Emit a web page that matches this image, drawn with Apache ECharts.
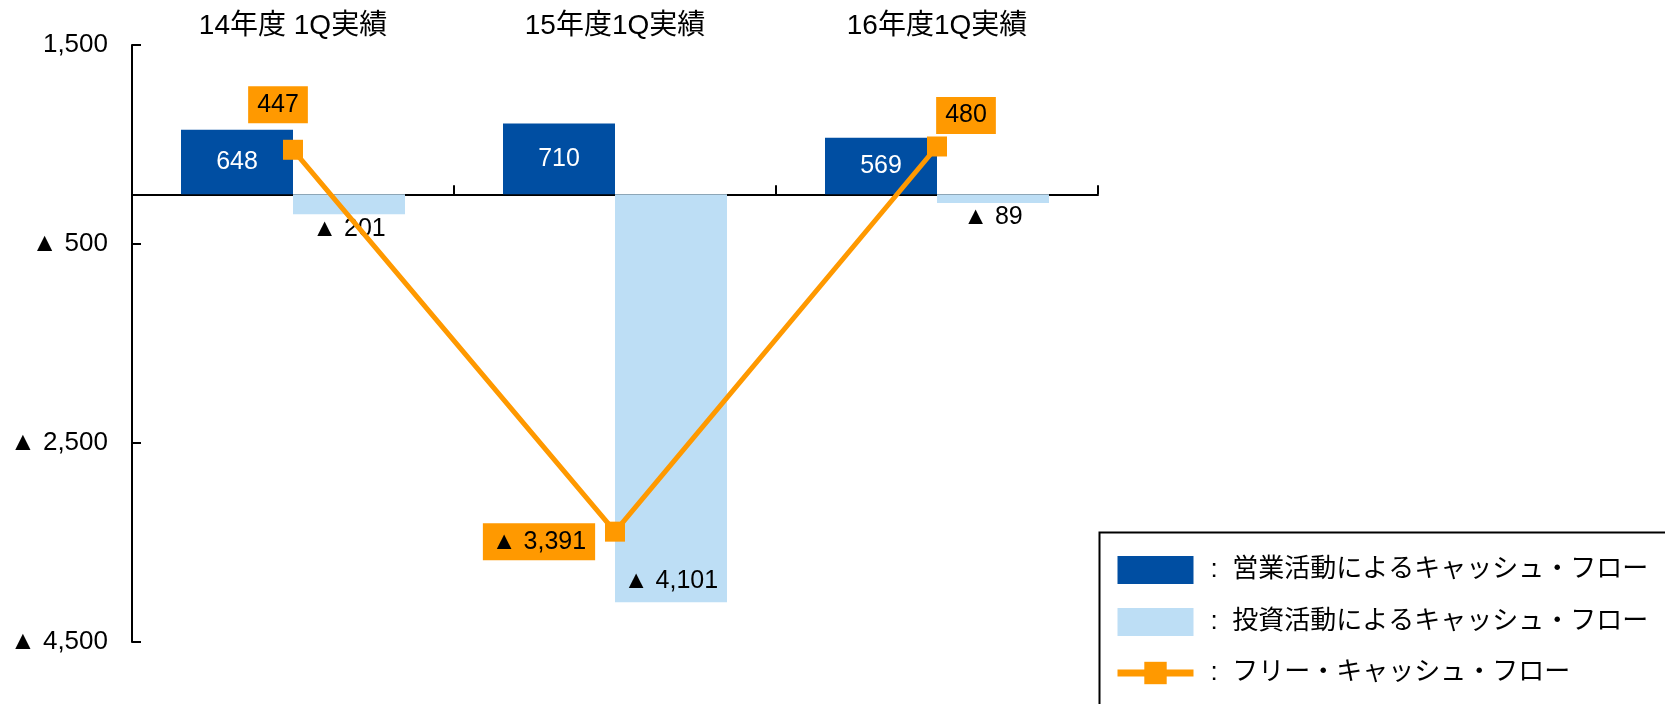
<!DOCTYPE html>
<html><head><meta charset="utf-8">
<script src="https://cdn.jsdelivr.net/npm/echarts@6/dist/echarts.min.js"></script>
<style>html,body{margin:0;padding:0;background:#fff}#c{width:1665px;height:704px}</style>
</head><body><div id="c"></div>
<script>
const categories = ['14年度 1Q実績', '15年度1Q実績', '16年度1Q実績'];
const operatingCF = [648, 710, 569];
const investingCF = [-201, -4101, -89];
const freeCF = [447, -3391, 480];
const yTickValues = [-4500, -2500, -500, 1500];
const seriesNames = ['営業活動によるキャッシュ・フロー', '投資活動によるキャッシュ・フロー', 'フリー・キャッシュ・フロー'];

const FONT = '"Liberation Sans", Arial, "Noto Sans CJK JP", sans-serif';
const DARK = '#004EA2', LIGHT = '#BDDEF5', ORANGE = '#FF9900';
function fmt(v) {
  const s = Math.abs(v).toLocaleString('en-US');
  return v < 0 ? '▲ ' + s : s;
}

const invLabelPos = ['bottom', 'insideBottom', 'bottom'];
const invLabelDist = [2, 9, 2];
const fcfOffsets = [[-15, -45], [-76, 10], [29, -31]];

const chart = echarts.init(document.getElementById('c'), null, {renderer: 'canvas'});
chart.setOption({
  animation: false,
  textStyle: {fontFamily: FONT},
  grid: {left: 132, top: 45, width: 966, height: 597},
  graphic: [{
    type: 'rect', left: 1097, top: 530, silent: true,
    shape: {width: 620, height: 240},
    style: {fill: 'none', stroke: '#000', lineWidth: 2}
  }],
  xAxis: [{
    type: 'category', data: categories, position: 'bottom',
    axisLine: {onZero: true, lineStyle: {color: '#000', width: 2}},
    axisTick: {show: true, inside: true, length: 9, lineStyle: {color: '#000', width: 2}},
    axisLabel: {show: false}
  }, {
    type: 'category', data: categories, position: 'top',
    axisLine: {show: false}, axisTick: {show: false},
    axisLabel: {show: true, fontSize: 28, color: '#000', margin: 5, fontFamily: FONT}
  }],
  yAxis: {
    type: 'value', min: yTickValues[0], max: yTickValues[yTickValues.length - 1], interval: 2000,
    axisLine: {show: true, lineStyle: {color: '#000', width: 2}},
    axisTick: {show: true, inside: true, length: 9, lineStyle: {color: '#000', width: 2}},
    splitLine: {show: false},
    axisLabel: {fontSize: 26, color: '#000', margin: 24, formatter: fmt, fontFamily: FONT}
  },
  legend: {
    orient: 'vertical', left: 1114, top: 556,
    padding: 0,
    itemWidth: 76, itemHeight: 28, itemGap: 24,
    textStyle: {fontSize: 26, color: '#000', fontFamily: FONT, padding: [0, 0, 0, 12]},
    formatter: n => ':  ' + n,
    data: [
      {name: seriesNames[0], icon: 'rect'},
      {name: seriesNames[1], icon: 'rect'},
      {name: seriesNames[2], lineStyle: {width: 7}}
    ]
  },
  series: [{
    name: seriesNames[0], type: 'bar', data: operatingCF, barWidth: 112, barGap: '0%',
    itemStyle: {color: DARK},
    label: {show: true, position: 'inside', color: '#fff', fontSize: 25, formatter: p => fmt(p.value), fontFamily: FONT}
  }, {
    name: seriesNames[1], type: 'bar', data: investingCF.map((v, i) => ({
      value: v,
      label: {position: invLabelPos[i], distance: invLabelDist[i]}
    })), barWidth: 112,
    itemStyle: {color: LIGHT},
    label: {show: true, color: '#000', fontSize: 25, formatter: p => fmt(p.value), fontFamily: FONT}
  }, {
    name: seriesNames[2], type: 'line', data: freeCF.map((v, i) => ({
      value: v,
      label: {offset: fcfOffsets[i]}
    })),
    symbol: 'rect', symbolSize: 20, z: 5,
    lineStyle: {color: ORANGE, width: 5},
    itemStyle: {color: ORANGE},
    label: {show: true, position: 'inside', color: '#000', fontSize: 25, backgroundColor: ORANGE,
      padding: [7, 9, 5, 9], formatter: p => fmt(p.value), fontFamily: FONT}
  }]
});
</script></body></html>
